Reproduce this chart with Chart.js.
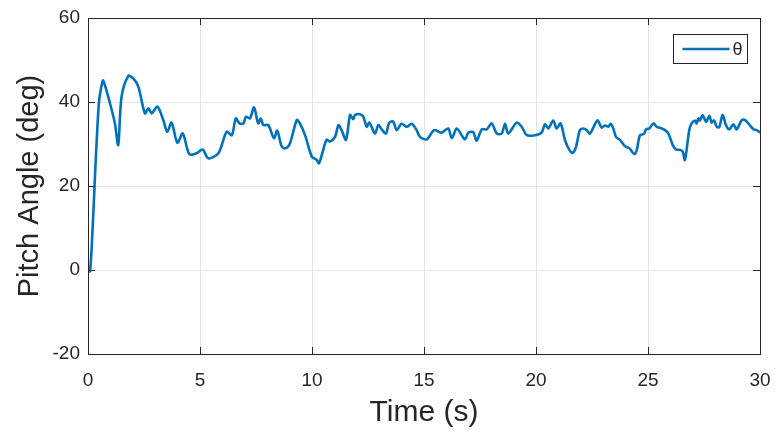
<!DOCTYPE html>
<html>
<head>
<meta charset="utf-8">
<script src="https://cdn.jsdelivr.net/npm/chart.js@4/dist/chart.umd.min.js"></script>
<style>
html,body{margin:0;padding:0;background:#fff;}
#wrap{width:776px;height:434px;position:relative;}
</style>
</head>
<body>
<div id="wrap"><canvas id="c" width="776" height="434"></canvas></div>
<script>
const seriesLabel = "θ";
const xTitle = "Time (s)";
const yTitle = "Pitch Angle (deg)";
const xTicks = [0, 5, 10, 15, 20, 25, 30];
const yTicks = [-20, 0, 20, 40, 60];
const timeS = [0,0.09,0.21,0.31,0.42,0.5,0.61,0.68,0.98,1.2,1.35,1.5,1.8,2.02,2.25,2.54,2.7,2.84,3.1,3.36,3.54,3.73,3.99,4.23,4.52,4.85,5.12,5.37,5.82,6.19,6.42,6.6,6.76,6.94,7.05,7.23,7.41,7.6,7.71,7.83,8.05,8.3,8.45,8.65,8.84,9.02,9.32,9.46,9.69,9.99,10.21,10.31,10.48,10.65,10.8,11.03,11.18,11.32,11.52,11.7,11.84,11.92,12.14,12.29,12.44,12.56,12.81,12.96,13.11,13.3,13.45,13.63,13.78,14.0,14.23,14.45,14.67,14.82,15.12,15.45,15.79,16.08,16.24,16.46,16.68,16.83,16.98,17.2,17.35,17.58,17.8,18.02,18.25,18.47,18.62,18.76,19.14,19.36,19.59,19.96,20.25,20.4,20.55,20.77,20.92,21.1,21.29,21.49,21.64,21.79,21.96,22.11,22.26,22.41,22.74,22.93,23.08,23.23,23.33,23.45,23.57,23.75,23.97,24.17,24.39,24.5,24.64,24.82,24.91,25.06,25.24,25.39,25.61,25.76,25.91,26.1,26.25,26.43,26.55,26.65,26.84,26.95,27.1,27.17,27.25,27.32,27.44,27.59,27.74,27.84,27.95,28.07,28.18,28.33,28.48,28.63,28.81,28.96,29.18,29.33,29.48,29.71,29.85,30];
const pitchDeg = [0,-0.3,10.3,22.2,34.1,40.5,44,45.1,39.7,34.9,29.8,41.3,46.2,45.6,43.6,37.3,38.5,37.3,38.9,35.7,32.9,35.1,30.3,32.5,27.6,27.8,28.7,26.6,27.8,32.9,32.1,36.1,34.9,34.9,36.5,36.1,38.7,34.9,36.1,34.5,34.5,31.4,33.2,29.4,29.0,30.2,35.7,34.9,32.1,27.0,26.2,25.4,28.2,31.0,30.6,31.7,34.5,33.3,31.0,36.9,35.9,36.9,37.1,36.5,34.1,35.1,32.5,34.5,33.5,32.5,35.1,35.3,33.3,34.8,34.1,34.8,33.3,31.7,31.1,33.3,32.7,33.7,31.4,33.7,32.1,31.1,32.7,32.8,30.8,33.5,33.5,34.9,32.5,32.5,34.8,32.5,35.1,34.1,32.1,32.1,32.7,34.7,33.7,35.6,33.7,34.9,31.0,28.6,27.9,29.4,33.3,33.7,33.3,32.5,35.6,33.9,34.4,34.1,34.8,33.7,31.7,31.0,29.5,29.0,27.6,28.6,32.1,32.4,33.5,33.7,34.9,34.1,33.7,33.3,32.5,29.8,28.7,28.6,28.2,26.2,33.3,34.9,35.6,34.9,36.1,35.6,36.9,35.3,36.7,35.1,35.6,34.1,34.0,36.9,34.5,33.5,34.7,33.5,35.6,35.7,34.9,33.5,33.3,32.7];

const FONT = "'Liberation Sans', Arial, sans-serif";
const TXT = '#262626';
const LINE = '#0072BD';

const frame = {
  id: 'frame',
  afterDatasetsDraw(chart) {
    const {ctx, chartArea: a, scales} = chart;
    ctx.save();
    ctx.strokeStyle = TXT;
    ctx.lineWidth = 1;
    const tl = 7;
    xTicks.forEach(v => {
      const px = Math.round(scales.x.getPixelForValue(v)) + 0.5;
      ctx.beginPath();
      ctx.moveTo(px, a.bottom); ctx.lineTo(px, a.bottom - tl);
      ctx.moveTo(px, a.top); ctx.lineTo(px, a.top + tl);
      ctx.stroke();
    });
    yTicks.forEach(v => {
      const py = Math.round(scales.y.getPixelForValue(v)) + 0.5;
      ctx.beginPath();
      ctx.moveTo(a.left, py); ctx.lineTo(a.left + tl, py);
      ctx.moveTo(a.right, py); ctx.lineTo(a.right - tl, py);
      ctx.stroke();
    });
    ctx.strokeRect(Math.round(a.left) + 0.5, Math.round(a.top) + 0.5,
                   Math.round(a.right - a.left), Math.round(a.bottom - a.top));
    // legend
    const w = 74, h = 29;
    const lx = Math.round(a.right - 13 - w) + 0.5, ly = Math.round(a.top + 16) + 0.5;
    ctx.fillStyle = '#fff';
    ctx.fillRect(lx, ly, w, h);
    ctx.strokeStyle = TXT;
    ctx.strokeRect(lx, ly, w, h);
    ctx.strokeStyle = LINE;
    ctx.lineWidth = 2.6;
    ctx.beginPath();
    ctx.moveTo(lx + 9, ly + h / 2); ctx.lineTo(lx + 56, ly + h / 2);
    ctx.stroke();
    ctx.fillStyle = TXT;
    ctx.font = '18px ' + FONT;
    ctx.textBaseline = 'middle';
    ctx.textAlign = 'left';
    ctx.fillText(chart.data.datasets[0].label, lx + 59, ly + h / 2 + 1);
    ctx.restore();
  }
};

new Chart(document.getElementById('c'), {
  type: 'line',
  data: {
    datasets: [{
      label: seriesLabel,
      data: timeS.map((t, i) => ({x: t, y: pitchDeg[i]})),
      borderColor: LINE,
      borderWidth: 2.6,
      pointRadius: 0,
      tension: 0.3,
      fill: false
    }]
  },
  options: {
    responsive: false,
    animation: false,
    devicePixelRatio: 1,
    layout: {padding: {left: 0, right: 16, top: 18, bottom: 0}},
    plugins: {legend: {display: false}, tooltip: {enabled: false}},
    scales: {
      x: {
        type: 'linear', min: 0, max: 30,
        afterFit(s) { s.height = 80; s.paddingLeft = 0; s.paddingRight = 0; },
        afterBuildTicks(s) { s.ticks = xTicks.map(v => ({value: v})); },
        grid: {color: '#e3e3e3', drawTicks: false, lineWidth: 1},
        border: {display: false},
        ticks: {color: TXT, font: {family: FONT, size: 19}, padding: 15, maxRotation: 0},
        title: {display: true, text: xTitle, color: TXT, font: {family: FONT, size: 30}, padding: {top: 0, bottom: 3}}
      },
      y: {
        type: 'linear', min: -20, max: 60,
        afterFit(s) { s.width = 88; s.paddingTop = 0; s.paddingBottom = 0; },
        afterBuildTicks(s) { s.ticks = yTicks.map(v => ({value: v})); },
        grid: {color: '#e3e3e3', drawTicks: false, lineWidth: 1},
        border: {display: false},
        ticks: {color: TXT, font: {family: FONT, size: 19}, padding: 8},
        title: {display: true, text: yTitle, color: TXT, font: {family: FONT, size: 29}, padding: {top: 13, bottom: 0}}
      }
    }
  },
  plugins: [frame]
});
</script>
</body>
</html>
